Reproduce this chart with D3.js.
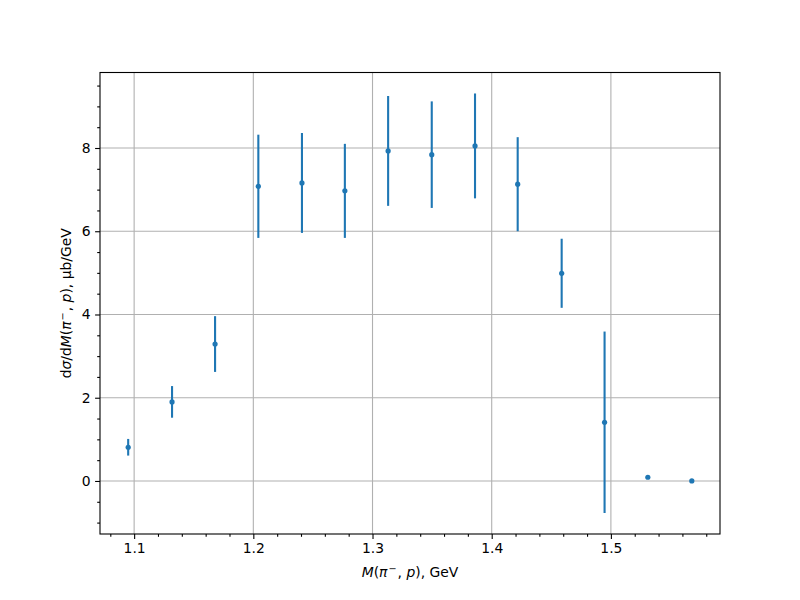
<!DOCTYPE html>
<html>
<head>
<meta charset="utf-8">
<script src="https://cdn.jsdelivr.net/npm/d3@7"></script>
<style>
body{margin:0;background:#fff;}
text{font-family:"DejaVu Sans",sans-serif;}
</style>
</head>
<body>
<svg id="chart" width="800" height="600"></svg>
<script>
const massValues = [1.0950,1.1318,1.1679,1.2042,1.2408,1.2768,1.3131,1.3497,1.3860,1.4218,1.4587,1.4947,1.5310,1.5679];
const xsecValues = [0.81,1.90,3.29,7.08,7.16,6.97,7.93,7.84,8.05,7.13,4.99,1.41,0.09,0.00];
const xsecErrors = [0.20,0.38,0.67,1.24,1.20,1.13,1.32,1.28,1.26,1.13,0.83,2.18,0.00,0.00];
const xTickValues = [1.1,1.2,1.3,1.4,1.5];
const yTickValues = [0,2,4,6,8];

const svg = d3.select("#chart");
const L=100,R=720,T=72.5,B=534;
const color="#1f77b4";

const lo = d3.min(massValues), hi = d3.max(massValues);
const xm = (hi-lo)*0.05;
const x = d3.scaleLinear().domain([lo-xm, hi+xm]).range([L,R]);
const ylo = d3.min(xsecValues.map((v,i)=>v-xsecErrors[i]));
const yhi = d3.max(xsecValues.map((v,i)=>v+xsecErrors[i]));
const ym = (yhi-ylo)*0.05;
const y = d3.scaleLinear().domain([ylo-ym, yhi+ym]).range([B,T]);

// grid
const g = svg.append("g");
g.selectAll(".gx").data(xTickValues).enter().append("line")
 .attr("x1",d=>x(d)).attr("x2",d=>x(d)).attr("y1",T).attr("y2",B)
 .attr("stroke","#b0b0b0").attr("stroke-width",1.1);
g.selectAll(".gy").data(yTickValues).enter().append("line")
 .attr("y1",d=>y(d)).attr("y2",d=>y(d)).attr("x1",L).attr("x2",R)
 .attr("stroke","#b0b0b0").attr("stroke-width",1.1);

// error bars
svg.append("g").selectAll("line").data(massValues).enter().append("line")
 .attr("x1",d=>x(d)).attr("x2",d=>x(d))
 .attr("y1",(d,i)=>y(xsecValues[i]-xsecErrors[i]))
 .attr("y2",(d,i)=>y(xsecValues[i]+xsecErrors[i]))
 .attr("stroke",color).attr("stroke-width",2.1);
svg.append("g").selectAll("circle").data(massValues).enter().append("circle")
 .attr("cx",d=>x(d)).attr("cy",(d,i)=>y(xsecValues[i])).attr("r",2.6).attr("fill",color);

// axes
const xMinor = d3.range(1.08,1.59,0.02).filter(v=>!xTickValues.some(t=>Math.abs(t-v)<1e-6));
const yMinor = d3.range(-1,9.9,0.5).filter(v=>!yTickValues.some(t=>Math.abs(t-v)<1e-6));

svg.append("g").attr("transform",`translate(0,${B})`)
 .call(d3.axisBottom(x).tickValues(xTickValues).tickFormat(d3.format(".1f")).tickSize(4.9).tickPadding(4.5));
svg.append("g").attr("transform",`translate(0,${B})`)
 .call(d3.axisBottom(x).tickValues(xMinor).tickFormat("").tickSize(2.8));
svg.append("g").attr("transform",`translate(${L},0)`)
 .call(d3.axisLeft(y).tickValues(yTickValues).tickFormat(d3.format("d")).tickSize(4.9).tickPadding(4.5));
svg.append("g").attr("transform",`translate(${L},0)`)
 .call(d3.axisLeft(y).tickValues(yMinor).tickFormat("").tickSize(2.8));
svg.selectAll(".domain").remove();
svg.selectAll(".tick line").attr("stroke","#000").attr("stroke-width",1.1);
svg.selectAll(".tick text").attr("font-size","13.9px").attr("fill","#000").attr("font-family","DejaVu Sans");

svg.append("rect").attr("x",L).attr("y",T).attr("width",R-L).attr("height",B-T)
 .attr("fill","none").attr("stroke","#000").attr("stroke-width",1.1);

// x label
const xl = svg.append("text").attr("x",(L+R)/2).attr("y",577).attr("text-anchor","middle").attr("font-size","13.9px");
xl.append("tspan").attr("font-style","italic").text("M");
xl.append("tspan").text("(");
xl.append("tspan").attr("font-style","italic").text("π");
xl.append("tspan").attr("font-size","9.7px").attr("dy","-5").attr("dx","1").text("−");
xl.append("tspan").attr("dy","5").attr("dx","1").text(", ");
xl.append("tspan").attr("font-style","italic").text("p");
xl.append("tspan").text("), GeV");

// y label
const yl = svg.append("text").attr("transform",`translate(71,${(T+B)/2}) rotate(-90)`).attr("text-anchor","middle").attr("font-size","13.9px");
yl.append("tspan").text("d");
yl.append("tspan").attr("font-style","italic").text("σ");
yl.append("tspan").text("/d");
yl.append("tspan").attr("font-style","italic").text("M");
yl.append("tspan").text("(");
yl.append("tspan").attr("font-style","italic").text("π");
yl.append("tspan").attr("font-size","9.7px").attr("dy","-5").attr("dx","1").text("−");
yl.append("tspan").attr("dy","5").attr("dx","1").text(", ");
yl.append("tspan").attr("font-style","italic").text("p");
yl.append("tspan").text("), μb/GeV");
</script>
</body>
</html>
